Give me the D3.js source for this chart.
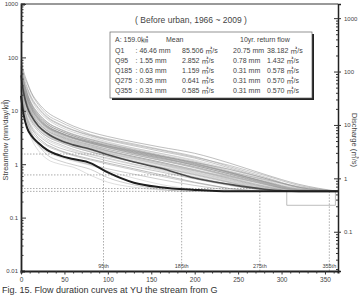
<!DOCTYPE html>
<html>
<head>
<meta charset="utf-8">
<script src="https://cdn.jsdelivr.net/npm/d3@7"></script>
<style>
  body { margin: 0; background: #fff; }
  svg { display: block; font-family: "Liberation Sans", "Noto Sans CJK KR", sans-serif; }
</style>
</head>
<body>
<div id="chart"></div>
<script>
// Catchment area (km²) and unit conversion mm/day -> m³/s
const AREA = 159.0;
const SEC_PER_DAY_KM = 86.4;

// Anchor days for each flow duration curve
const DAYS = [0, 3, 7, 12, 20, 30, 45, 60, 80, 100, 130, 160, 200, 240, 280, 320, 365];

// Annual flow duration curves (mm/day), one row per year
const YEARS = [
  [85, 48, 33, 21, 13, 8.5, 6.2, 4.8, 3.6, 3.0, 2.4, 1.9, 1.4, 0.9, 0.58, 0.37, 0.31],
  [60, 35, 24, 16, 10, 7.0, 5.0, 4.0, 3.2, 2.6, 2.0, 1.6, 1.15, 0.75, 0.5, 0.34, 0.31],
  [52, 28, 18, 12, 8.0, 5.6, 4.2, 3.4, 2.7, 2.2, 1.7, 1.35, 0.95, 0.66, 0.45, 0.33, 0.31],
  [45, 25, 15, 10, 6.8, 4.9, 3.6, 3.0, 2.4, 2.0, 1.55, 1.2, 0.85, 0.58, 0.4, 0.32, 0.31],
  [40, 20, 13, 8.5, 5.8, 4.2, 3.2, 2.6, 2.1, 1.75, 1.35, 1.05, 0.75, 0.52, 0.37, 0.31, 0.31],
  [70, 38, 22, 14, 9, 6.2, 4.5, 3.6, 2.9, 2.4, 1.9, 1.5, 1.1, 0.72, 0.47, 0.33, 0.31],
  [35, 18, 11, 7.5, 5.0, 3.7, 2.9, 2.4, 1.95, 1.6, 1.25, 0.98, 0.7, 0.5, 0.36, 0.31, 0.31],
  [30, 15, 9.5, 6.5, 4.4, 3.3, 2.6, 2.1, 1.7, 1.4, 1.1, 0.88, 0.64, 0.46, 0.34, 0.31, 0.31],
  [55, 30, 20, 13, 8.5, 6.0, 4.6, 3.7, 3.0, 2.5, 2.0, 1.6, 1.2, 0.8, 0.52, 0.35, 0.31],
  [48, 24, 14, 9.2, 6.2, 4.5, 3.4, 2.8, 2.3, 1.9, 1.5, 1.2, 0.88, 0.6, 0.42, 0.32, 0.31],
  [25, 12, 7.5, 5.0, 3.5, 2.6, 2.0, 1.7, 1.4, 1.15, 0.9, 0.72, 0.53, 0.4, 0.33, 0.31, 0.31],
  [38, 22, 14, 9.5, 6.5, 4.8, 3.7, 3.1, 2.6, 2.2, 1.8, 1.45, 1.05, 0.7, 0.46, 0.33, 0.31],
  [65, 32, 19, 12, 7.6, 5.3, 3.9, 3.1, 2.5, 2.05, 1.6, 1.25, 0.9, 0.62, 0.43, 0.32, 0.31],
  [42, 21, 12.5, 8.0, 5.4, 3.9, 3.0, 2.5, 2.0, 1.65, 1.3, 1.0, 0.72, 0.5, 0.36, 0.31, 0.31],
  [28, 14, 9.0, 6.0, 4.1, 3.0, 2.35, 1.9, 1.55, 1.3, 1.0, 0.8, 0.58, 0.42, 0.33, 0.31, 0.31],
  [75, 40, 26, 17, 11, 7.5, 5.4, 4.3, 3.4, 2.8, 2.2, 1.75, 1.3, 0.85, 0.55, 0.36, 0.31],
  [33, 17, 10.5, 7.0, 4.8, 3.5, 2.7, 2.2, 1.8, 1.5, 1.15, 0.9, 0.66, 0.47, 0.35, 0.31, 0.31],
  [50, 26, 16, 10.5, 7.0, 5.0, 3.8, 3.1, 2.5, 2.1, 1.65, 1.3, 0.95, 0.65, 0.44, 0.32, 0.31],
  [22, 9, 5.0, 3.2, 2.2, 1.7, 1.35, 1.15, 0.95, 0.75, 0.55, 0.42, 0.34, 0.31, 0.31, 0.31, 0.31],
  [26, 11, 6.5, 4.2, 2.9, 2.2, 1.75, 1.45, 1.2, 1.0, 0.78, 0.6, 0.45, 0.35, 0.31, 0.31, 0.31],
  [58, 30, 18, 11.5, 7.4, 5.2, 3.9, 3.2, 2.6, 2.15, 1.7, 1.35, 1.0, 0.68, 0.46, 0.33, 0.31],
  [36, 19, 12, 8.0, 5.5, 4.0, 3.1, 2.55, 2.1, 1.75, 1.4, 1.1, 0.8, 0.56, 0.39, 0.31, 0.31],
  [44, 23, 14, 9.0, 6.0, 4.3, 3.3, 2.7, 2.2, 1.8, 1.4, 1.1, 0.78, 0.54, 0.38, 0.31, 0.31],
  [31, 16, 10, 6.8, 4.6, 3.4, 2.7, 2.25, 1.85, 1.55, 1.2, 0.95, 0.68, 0.48, 0.35, 0.31, 0.31],
  [20, 10, 6.0, 3.8, 2.6, 1.9, 1.45, 1.2, 0.98, 0.82, 0.65, 0.52, 0.4, 0.33, 0.31, 0.31, 0.31],
  [62, 34, 21, 13.5, 8.8, 6.1, 4.5, 3.6, 2.9, 2.4, 1.85, 1.45, 1.05, 0.7, 0.47, 0.33, 0.31],
  [39, 20, 12, 7.8, 5.2, 3.8, 2.95, 2.45, 2.0, 1.7, 1.35, 1.06, 0.77, 0.55, 0.39, 0.32, 0.31],
  [47, 26, 17, 11, 7.2, 5.1, 3.9, 3.2, 2.6, 2.2, 1.75, 1.4, 1.02, 0.7, 0.48, 0.34, 0.31],
  [29, 13, 8.0, 5.3, 3.7, 2.8, 2.2, 1.8, 1.5, 1.25, 0.97, 0.76, 0.55, 0.41, 0.33, 0.31, 0.31],
  [54, 27, 16, 10, 6.6, 4.7, 3.5, 2.85, 2.3, 1.9, 1.5, 1.18, 0.86, 0.6, 0.42, 0.32, 0.31],
  [80, 45, 28, 18, 11.5, 7.8, 5.6, 4.4, 3.5, 2.9, 2.3, 1.85, 1.35, 0.95, 0.62, 0.4, 0.31],
  [34, 17, 10, 6.6, 4.5, 3.3, 2.55, 2.1, 1.7, 1.42, 1.1, 0.86, 0.62, 0.45, 0.34, 0.31, 0.31],
  [90, 55, 35, 22, 14, 9.5, 6.8, 5.2, 4.0, 3.3, 2.6, 2.1, 1.6, 1.05, 0.65, 0.42, 0.31],
  [30, 10, 5.2, 3.0, 1.8, 1.25, 1.0, 0.88, 0.62, 0.46, 0.37, 0.33, 0.31, 0.31, 0.31, 0.31, 0.31],
  [40, 14, 6.5, 3.8, 2.3, 1.5, 1.15, 0.98, 0.8, 0.56, 0.41, 0.34, 0.31, 0.31, 0.31, 0.31, 0.31],
  [56, 29, 17, 11, 7.0, 4.9, 3.7, 3.0, 2.45, 2.05, 1.6, 1.3, 0.98, 0.72, 0.52, 0.38, 0.31],
  [37, 19, 11.5, 7.4, 5.0, 3.6, 2.8, 2.3, 1.9, 1.6, 1.28, 1.0, 0.75, 0.58, 0.44, 0.34, 0.31],
  [68, 36, 21, 13, 8.2, 5.7, 4.2, 3.4, 2.75, 2.3, 1.8, 1.42, 1.08, 0.8, 0.55, 0.37, 0.31]
];

// One year with a drop below the base flow near the end
const STEP_DAYS = [0, 3, 7, 12, 20, 30, 45, 60, 80, 100, 130, 160, 200, 240, 280, 306, 306, 362, 362, 365];
const STEP_VALS = [24, 12, 7.0, 4.6, 3.1, 2.3, 1.8, 1.5, 1.25, 1.05, 0.82, 0.64, 0.46, 0.35, 0.31, 0.31, 0.17, 0.17, 0.31, 0.31];

// Mean and 10-year return flow duration curves (mm/day)
const MEAN_CURVE = [46, 22, 12, 8, 5.2, 3.8, 2.8, 2.3, 1.9, 1.5, 1.1, 0.85, 0.55, 0.42, 0.34, 0.31, 0.31];
const RETURN_CURVE = [19, 8.5, 4.8, 3.4, 2.5, 1.85, 1.45, 1.25, 1.05, 0.7, 0.45, 0.37, 0.33, 0.31, 0.31, 0.31, 0.31];

// Table in the box
const Q_LABELS = ["Q1", "Q95", "Q185", "Q275", "Q355"];
const Q_DAYS = [1, 95, 185, 275, 355];
const MEAN_MM = [46.46, 1.55, 0.63, 0.35, 0.31];
const MEAN_CMS = [85.506, 2.852, 1.159, 0.641, 0.585];
const RET_MM = [20.75, 0.78, 0.31, 0.31, 0.31];
const RET_CMS = [38.182, 1.432, 0.578, 0.570, 0.570];

const X_TICKS = [0, 50, 100, 150, 200, 250, 300, 350];

const W = 359, H = 295;
const svg = d3.select("#chart").append("svg").attr("width", W).attr("height", H);

const x = d3.scaleLinear().domain([0, 365]).range([21, 338]);
const y = d3.scaleLog().domain([0.01, 1000]).range([271, 4]);
const yR = d3.scaleLog()
  .domain([0.01 * AREA / SEC_PER_DAY_KM, 1000 * AREA / SEC_PER_DAY_KM])
  .range([271, 4]);

// log tick values with minors
function logTicks(scale) {
  const [a, b] = scale.domain();
  const out = [];
  for (let e = Math.floor(Math.log10(a)); e <= Math.ceil(Math.log10(b)); e++) {
    for (let k = 1; k <= 9; k++) {
      const v = k * Math.pow(10, e);
      if (v >= a * 0.999 && v <= b * 1.001) out.push(v);
    }
  }
  return out;
}
const isMajor = v => Math.abs(Math.log10(v) - Math.round(Math.log10(v))) < 1e-6;

// frame
svg.append("line").attr("x1", x(0)).attr("x2", x(365)).attr("y1", y(1000)).attr("y2", y(1000))
  .attr("stroke", "#777").attr("stroke-width", 1.5);

// curves
const line = d3.line().x(d => x(d[0])).y(d => y(d[1])).curve(d3.curveMonotoneX);
const lineLin = d3.line().x(d => x(d[0])).y(d => y(d[1]));
const grays = ["#9a9a9a", "#b3b3b3", "#8a8a8a", "#c2c2c2", "#a4a4a4"];

svg.append("g").selectAll("path").data(YEARS).join("path")
  .attr("d", vals => line(vals.map((v, i) => [DAYS[i], v])))
  .attr("fill", "none")
  .attr("stroke", (d, i) => grays[i % grays.length])
  .attr("stroke-width", 0.55);

svg.append("path")
  .attr("d", lineLin(STEP_VALS.map((v, i) => [STEP_DAYS[i], v])))
  .attr("fill", "none").attr("stroke", "#a0a0a0").attr("stroke-width", 0.7);

// reference dashed lines for Q95..Q355 of the mean curve
const refs = Q_DAYS.slice(1).map((d, i) => ({ day: d, val: MEAN_MM[i + 1] }));
const refG = svg.append("g").attr("stroke", "#888").attr("stroke-width", 0.7).attr("stroke-dasharray", "1.5,1.5");
refG.selectAll(".h").data(refs).join("line")
  .attr("x1", x(0)).attr("x2", d => x(d.day))
  .attr("y1", d => y(d.val)).attr("y2", d => y(d.val));
refG.selectAll(".v").data(refs).join("line")
  .attr("x1", d => x(d.day)).attr("x2", d => x(d.day))
  .attr("y1", d => y(d.val)).attr("y2", y(0.01));

svg.append("path")
  .attr("d", line(MEAN_CURVE.map((v, i) => [DAYS[i], v])))
  .attr("fill", "none").attr("stroke", "#4a4a4a").attr("stroke-width", 1.6);
svg.append("path")
  .attr("d", line(RETURN_CURVE.map((v, i) => [DAYS[i], v])))
  .attr("fill", "none").attr("stroke", "#1e1e1e").attr("stroke-width", 2);

svg.append("g").selectAll("text").data(refs).join("text")
  .attr("x", d => x(d.day)).attr("y", 268)
  .attr("text-anchor", "middle").attr("font-size", 5.5).attr("fill", "#444")
  .text(d => d.day + "th");

// left axis
const yAxis = svg.append("g").attr("transform", `translate(${x(0)},0)`)
  .call(d3.axisLeft(y).tickValues(logTicks(y)).tickSize(-4).tickPadding(3)
    .tickFormat(v => isMajor(v) ? d3.format("~g")(v) : ""));
yAxis.select(".domain").attr("stroke", "#222").attr("stroke-width", 1.8);
yAxis.selectAll(".tick line").attr("x2", v => isMajor(v) ? 5 : 2.5).attr("stroke", "#333");
yAxis.selectAll("text").attr("font-size", 6).attr("fill", "#444");

// right axis (m³/s)
const rAxis = svg.append("g").attr("transform", `translate(${x(365)},0)`)
  .call(d3.axisRight(yR).tickValues(logTicks(yR)).tickSize(3).tickPadding(3)
    .tickFormat(v => isMajor(v) ? d3.format("~g")(v) : ""));
rAxis.select(".domain").attr("stroke", "#222").attr("stroke-width", 1.5);
rAxis.selectAll(".tick line").attr("x1", v => isMajor(v) ? -4 : -2).attr("x2", v => isMajor(v) ? 3 : 0).attr("stroke", "#333");
rAxis.selectAll("text").attr("font-size", 6).attr("fill", "#444");

// bottom axis
const xAxis = svg.append("g").attr("transform", `translate(0,${y(0.01)})`)
  .call(d3.axisBottom(x).tickValues(d3.range(0, 361, 10)).tickSize(2.5).tickPadding(4)
    .tickFormat(v => X_TICKS.includes(v) ? v : ""));
xAxis.select(".domain").attr("stroke", "#222").attr("stroke-width", 2);
xAxis.selectAll(".tick line").attr("stroke", "#333").attr("y2", v => X_TICKS.includes(v) ? 3.5 : 2.5);
xAxis.selectAll("text").attr("font-size", 6.5).attr("fill", "#444");

// axis titles
svg.append("text").attr("transform", "translate(8,140) rotate(-90)")
  .attr("text-anchor", "middle").attr("font-size", 7.5).attr("fill", "#444")
  .text("Streamflow (mm/day/㎢)");
svg.append("text").attr("transform", "translate(352,140) rotate(90)")
  .attr("text-anchor", "middle").attr("font-size", 7.5).attr("fill", "#444")
  .text("Discharge (㎥/s)");

// title
svg.append("text").attr("x", 191).attr("y", 23).attr("text-anchor", "middle")
  .attr("font-size", 8.5).attr("fill", "#444").text("( Before urban, 1966 ~ 2009 )");

// table box
svg.append("rect").attr("x", 112).attr("y", 34).attr("width", 202).attr("height", 66).attr("fill", "#222");
svg.append("rect").attr("x", 110).attr("y", 32).attr("width", 202).attr("height", 66)
  .attr("fill", "#fff").attr("stroke", "#666").attr("stroke-width", 0.7);
const tb = svg.append("g").attr("font-size", 7).attr("fill", "#444");
tb.append("text").attr("x", 115).attr("y", 42).text(`A: ${AREA.toFixed(1)}㎢`);
tb.append("text").attr("x", 166).attr("y", 42).text("Mean");
tb.append("text").attr("x", 240).attr("y", 42).text("10yr. return flow");
Q_LABELS.forEach((q, i) => {
  const yy = 52.5 + i * 10;
  tb.append("text").attr("x", 115).attr("y", yy).text(q);
  tb.append("text").attr("x", 135.5).attr("y", yy).text(`: ${MEAN_MM[i].toFixed(2)} mm`);
  tb.append("text").attr("x", 182).attr("y", yy).text(`${MEAN_CMS[i].toFixed(3)} ㎥/s`);
  tb.append("text").attr("x", 233).attr("y", yy).text(`${RET_MM[i].toFixed(2)} mm`);
  tb.append("text").attr("x", 267).attr("y", yy).text(`${RET_CMS[i].toFixed(3)} ㎥/s`);
});

// caption below the chart
svg.append("text").attr("x", 2).attr("y", 292.5).attr("font-size", 9).attr("fill", "#333")
  .text("Fig. 15.  Flow duration curves at YU the stream from G");
</script>
</body>
</html>
